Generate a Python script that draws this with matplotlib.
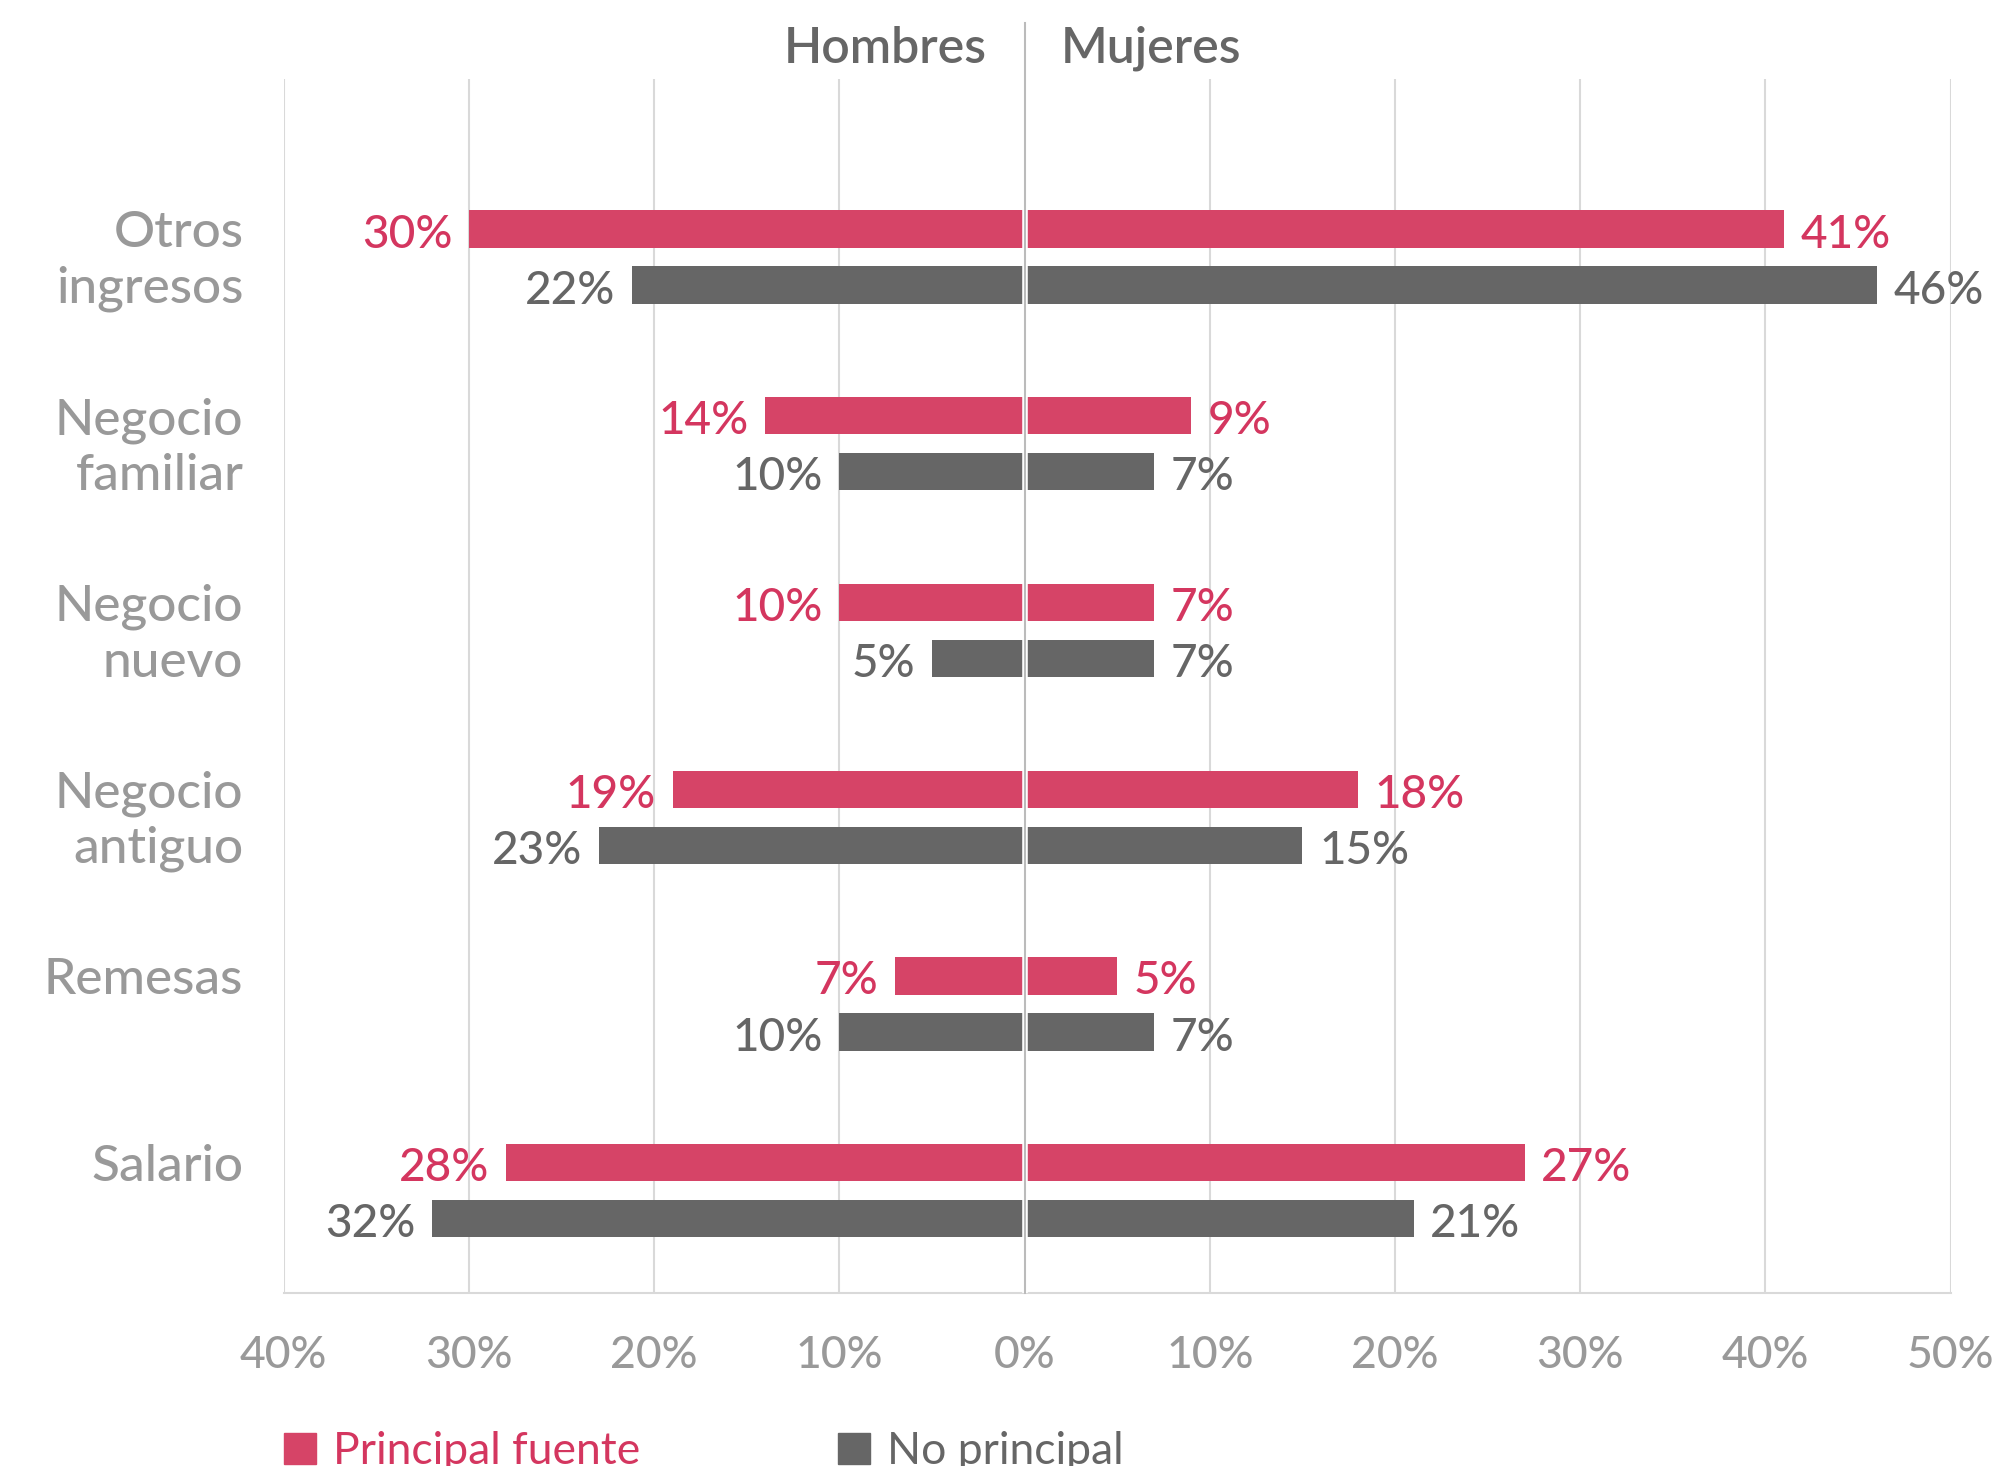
import matplotlib
matplotlib.use('Agg')
import matplotlib.pyplot as plt
from matplotlib.patches import Patch

plt.rcParams['font.family'] = ['Lato', 'DejaVu Sans']

# Datos (porcentajes)
categorias = ['Otros\ningresos', 'Negocio\nfamiliar', 'Negocio\nnuevo',
              'Negocio\nantiguo', 'Remesas', 'Salario']
hombres_principal = [30, 14, 10, 19, 7, 28]
hombres_no_principal = [21.2, 10, 5, 23, 10, 32]
mujeres_principal = [41, 9, 7, 18, 5, 27]
mujeres_no_principal = [46, 7, 7, 15, 7, 21]
# la etiqueta de "Otros ingresos" (hombres, no principal) dice 22%
etiq_hombres_no_principal = ['22%', '10%', '5%', '23%', '10%', '32%']
ticks = [-40, -30, -20, -10, 0, 10, 20, 30, 40, 50]

rojo = '#D64467'
rojo_txt = '#D4365F'
gris = '#666666'
gris_claro = '#999999'

fig = plt.figure(figsize=(20.03, 14.66), dpi=100)
ax = fig.add_axes([0.1416, 0.118, 0.8323, 0.8281])

alto = 0.2
sep = 0.15
for i in range(len(categorias)):
    y_r = i - sep
    y_g = i + sep
    ax.barh(y_r, -hombres_principal[i], height=alto, color=rojo, zorder=2)
    ax.barh(y_r, mujeres_principal[i], height=alto, color=rojo, zorder=2)
    ax.barh(y_g, -hombres_no_principal[i], height=alto, color=gris, zorder=2)
    ax.barh(y_g, mujeres_no_principal[i], height=alto, color=gris, zorder=2)

    # etiquetas de valores
    for v, t, y, lado, c in [(hombres_principal[i], f'{hombres_principal[i]}%', y_r, -1, rojo_txt),
                             (mujeres_principal[i], f'{mujeres_principal[i]}%', y_r, 1, rojo_txt),
                             (hombres_no_principal[i], etiq_hombres_no_principal[i], y_g, -1, gris),
                             (mujeres_no_principal[i], f'{mujeres_no_principal[i]}%', y_g, 1, gris)]:
        ax.annotate(t, xy=(lado * v, y), xytext=(lado * 12, -4),
                    textcoords='offset points', ha='right' if lado < 0 else 'left',
                    va='center', fontsize=33, color=c, fontweight='medium')

    # etiqueta de categoria
    lab = categorias[i]
    y_lab = i if '\n' in lab else y_r
    ax.annotate(lab, xy=(-40, y_lab), xytext=(-29, -3), textcoords='offset points',
                ha='right', va='center', fontsize=37, color=gris_claro,
                fontweight='medium', linespacing=1.25)

ax.set_xlim(-40, 50)
ax.set_ylim(5.548, -0.953)
ax.set_xticks(ticks)
ax.set_xticklabels([f'{abs(t)}%' for t in ticks], fontsize=32, color=gris_claro,
                   fontweight='medium')
ax.tick_params(axis='x', length=0, pad=30)
ax.set_yticks([])
ax.set_axisbelow(True)
ax.grid(axis='x', color='#d9d9d9', linewidth=1.5)
for s in ['top', 'left', 'right']:
    ax.spines[s].set_visible(False)
ax.spines['bottom'].set_color('#d9d9d9')
ax.spines['bottom'].set_linewidth(1.5)

# linea central con hueco blanco
ax.axvline(0, color='white', linewidth=4, zorder=3)
ax.plot([0, 0], [0, 1.046], transform=ax.get_xaxis_transform(), color='#bbbbbb',
        linewidth=1.5, clip_on=False, zorder=4)

# encabezados
ax.annotate('Hombres', xy=(0, 1.0135), xycoords=('data', 'axes fraction'),
            xytext=(-27, 0), textcoords='offset points', ha='right', va='baseline',
            fontsize=36, fontweight='semibold', color=gris)
ax.annotate('Mujeres', xy=(0, 1.0135), xycoords=('data', 'axes fraction'),
            xytext=(26, 0), textcoords='offset points', ha='left', va='baseline',
            fontsize=36, fontweight='semibold', color=gris)

# leyenda (queda cortada abajo, como en el original)
handles = [Patch(color=rojo), Patch(color=gris)]
leg = fig.legend(handles, ['Principal fuente', 'No principal'], loc='upper left',
                 bbox_to_anchor=(284 / 2003, 1 - 1431 / 1466), ncol=2, frameon=False,
                 handlelength=0.72, handleheight=0.72,
                 handletextpad=0.38, columnspacing=4.45, borderpad=0,
                 borderaxespad=0, prop={'size': 32, 'weight': 'normal'})
leg.get_texts()[0].set_color(rojo_txt)
leg.get_texts()[1].set_color(gris)

plt.savefig('out.png', dpi=100)
